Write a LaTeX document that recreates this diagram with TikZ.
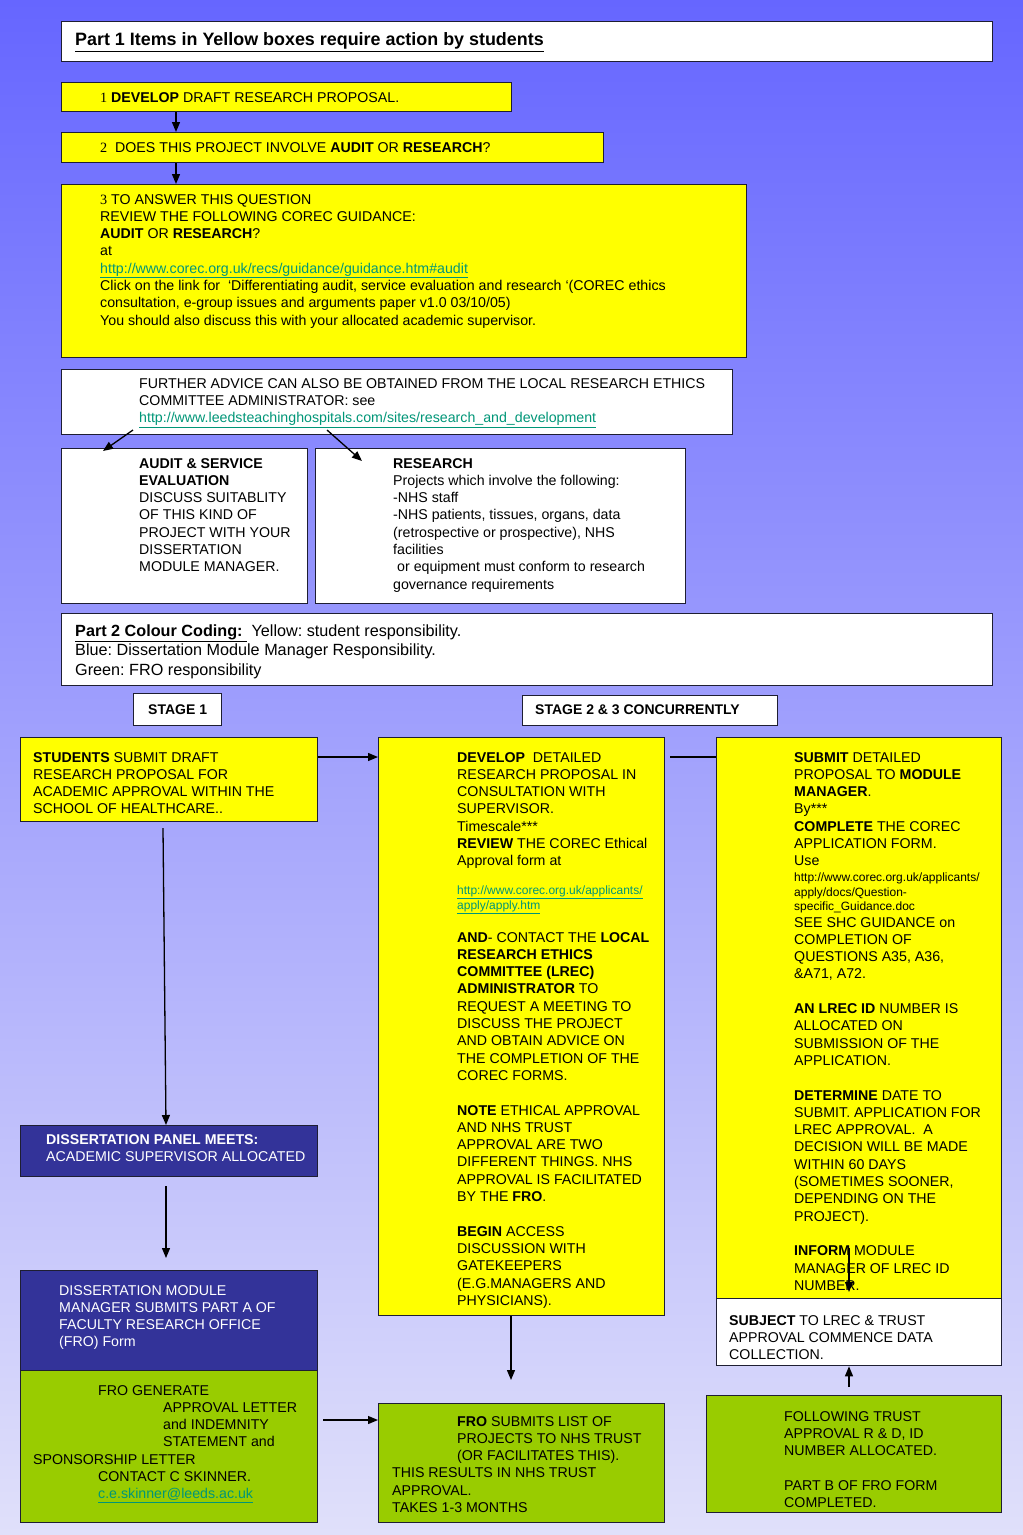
\documentclass[tikz,border=0pt]{standalone}
\usepackage{fontspec}
\setmainfont{Liberation Sans}
\newfontfamily\numfont{Liberation Serif}
\usetikzlibrary{arrows.meta}
\frenchspacing

\definecolor{bgtop}{RGB}{102,102,255}
\definecolor{bgbot}{RGB}{224,224,250}
\definecolor{edge}{RGB}{30,30,50}
\definecolor{yel}{RGB}{255,255,0}
\definecolor{blu}{RGB}{51,51,153}
\definecolor{grn}{RGB}{153,204,0}
\definecolor{linkcol}{RGB}{0,150,120}

\newcommand{\lnk}[1]{\textcolor{linkcol}{\underline{#1}}}

\begin{document}
\begin{tikzpicture}[x=1pt, y=-1pt,
    box/.style={draw=edge, line width=1.3pt, anchor=north west, inner sep=0pt},
    txt/.style={anchor=north west, inner sep=0pt, align=left, yshift=5.1pt,
      font=\fontsize{14.2}{17.3}\selectfont},
    small/.style={anchor=north west, inner sep=0pt, align=left, yshift=4.3pt,
      font=\fontsize{12}{14.5}\selectfont},
    arr/.style={-{Triangle[length=10pt,width=8pt]}, line width=1.3pt},
    plain/.style={line width=1.3pt}]

    \useasboundingbox (0,0) rectangle (1023,1535);
    \shade[top color=bgtop, bottom color=bgbot] (0,0) rectangle (1023,1535);

    % part 1
    \node[box, fill=white, minimum width=931pt, minimum height=40pt] (title) at (61,21) {};
    \node[txt, yshift=1.3pt, font=\fontsize{17.9}{21}\selectfont\bfseries] (ttitle) at (75,39)
      {\underline{Part 1 Items in Yellow boxes require action by students}};

    \node[box, fill=yel, minimum width=450pt, minimum height=29pt] (dev1) at (61,82) {};
    \node[txt] (tdev1) at (100,97) {{\numfont 1} \textbf{DEVELOP} DRAFT RESEARCH PROPOSAL.};

    \node[box, fill=yel, minimum width=542pt, minimum height=30pt] (q2) at (61,132) {};
    \node[txt] (tq2) at (100,147) {{\numfont 2}\ \ DOES THIS PROJECT INVOLVE \textbf{AUDIT} OR \textbf{RESEARCH}?};

    \node[box, fill=yel, minimum width=685pt, minimum height=173pt] (q3) at (61,184) {};
    \node[txt] (tq3) at (100,199) {{\numfont 3} TO ANSWER THIS QUESTION\\
      REVIEW THE FOLLOWING COREC GUIDANCE:\\
      \textbf{AUDIT} OR \textbf{RESEARCH}?\\
      at\\
      \lnk{http://www.corec.org.uk/recs/guidance/guidance.htm\#audit}\\
      Click on the link for \ ‘Differentiating audit, service evaluation and research ‘(COREC ethics\\
      consultation, e-group issues and arguments paper v1.0 03/10/05)\\
      You should also discuss this with your allocated academic supervisor.};

    \node[box, fill=white, minimum width=671pt, minimum height=65pt] (advice) at (61,369) {};
    \node[txt] (tadvice) at (139,383) {FURTHER ADVICE CAN ALSO BE OBTAINED FROM THE LOCAL RESEARCH ETHICS\\
      COMMITTEE ADMINISTRATOR: see\\
      \lnk{http://www.leedsteachinghospitals.com/sites/research\_and\_development}};

    \node[box, fill=white, minimum width=246pt, minimum height=155pt] (audit) at (61,448) {};
    \node[txt] (taudit) at (139,463) {\textbf{AUDIT \& SERVICE}\\
      \textbf{EVALUATION}\\
      DISCUSS SUITABLITY\\
      OF THIS KIND OF\\
      PROJECT WITH YOUR\\
      DISSERTATION\\
      MODULE MANAGER.};

    \node[box, fill=white, minimum width=370pt, minimum height=155pt] (research) at (315,448) {};
    \node[txt] (tresearch) at (393,463) {\textbf{RESEARCH}\\
      Projects which involve the following:\\
      -NHS staff\\
      -NHS patients, tissues, organs, data\\
      (retrospective or prospective), NHS\\
      facilities\\
      \hspace*{4pt}or equipment must conform to research\\
      governance requirements};

    % part 2
    \node[box, fill=white, minimum width=931pt, minimum height=72pt] (part2) at (61,613) {};
    \node[txt, yshift=0.6pt, font=\fontsize{16.2}{19.5}\selectfont] (tpart2) at (75,630)
      {\underline{\textbf{Part 2 Colour Coding:}\ }\ Yellow: student responsibility.\\
      Blue: Dissertation Module Manager Responsibility.\\
      Green: FRO responsibility};

    \node[box, fill=white, minimum width=88pt, minimum height=32pt] (stage1) at (133,693) {};
    \node[inner sep=0pt, font=\fontsize{14}{17}\selectfont\bfseries] (tstage1) at (stage1.center) {STAGE 1};
    \node[box, fill=white, minimum width=255pt, minimum height=30pt] (stage23) at (522,695) {};
    \node[txt, font=\fontsize{14}{17}\selectfont\bfseries] (tstage23) at (535,710) {STAGE 2 \& 3 CONCURRENTLY};

    % stage 1 column
    \node[box, fill=yel, minimum width=297pt, minimum height=84pt] (students) at (20,737) {};
    \node[txt] (tstudents) at (33,757) {\textbf{STUDENTS} SUBMIT DRAFT\\
      RESEARCH PROPOSAL FOR\\
      ACADEMIC APPROVAL WITHIN THE\\
      SCHOOL OF HEALTHCARE..};

    \node[box, fill=blu, minimum width=297pt, minimum height=51pt] (panel) at (20,1125) {};
    \node[txt, text=white] (tpanel) at (46,1139) {\textbf{DISSERTATION PANEL MEETS:}\\
      ACADEMIC SUPERVISOR ALLOCATED};

    \node[box, fill=blu, minimum width=297pt, minimum height=100pt] (dmm) at (20,1270) {};
    \node[txt, text=white] (tdmm) at (59,1290) {DISSERTATION MODULE\\
      MANAGER SUBMITS PART A OF\\
      FACULTY RESEARCH OFFICE\\
      (FRO) Form};

    \node[box, fill=grn, minimum width=297pt, minimum height=152pt] (frogen) at (20,1370) {};
    \node[txt] (tfrogen) at (33,1390) {\hspace*{65pt}FRO GENERATE\\
      \hspace*{130pt}APPROVAL LETTER\\
      \hspace*{130pt}and INDEMNITY\\
      \hspace*{130pt}STATEMENT and\\
      SPONSORSHIP LETTER\\
      \hspace*{65pt}CONTACT C SKINNER.\\
      \hspace*{65pt}\lnk{c.e.skinner@leeds.ac.uk}};

    % stage 2 & 3 columns
    \node[box, fill=yel, minimum width=286pt, minimum height=578pt] (develop) at (378,737) {};
    \node[txt] (tdevelop) at (457,757) {\textbf{DEVELOP} \ DETAILED\\
      RESEARCH PROPOSAL IN\\
      CONSULTATION WITH\\
      SUPERVISOR.\\
      Timescale***\\
      \textbf{REVIEW} THE COREC Ethical\\
      Approval form at};
    \node[small] (tdevurl) at (457,890) {\lnk{http://www.corec.org.uk/applicants/}\\
      \lnk{apply/apply.htm}};
    \node[txt] (tdevlrec) at (457,937) {\textbf{AND}- CONTACT THE \textbf{LOCAL}\\
      \textbf{RESEARCH ETHICS}\\
      \textbf{COMMITTEE (LREC)}\\
      \textbf{ADMINISTRATOR} TO\\
      REQUEST A MEETING TO\\
      DISCUSS THE PROJECT\\
      AND OBTAIN ADVICE ON\\
      THE COMPLETION OF THE\\
      COREC FORMS.\\[17.3pt]
      \textbf{NOTE} ETHICAL APPROVAL\\
      AND NHS TRUST\\
      APPROVAL ARE TWO\\
      DIFFERENT THINGS. NHS\\
      APPROVAL IS FACILITATED\\
      BY THE \textbf{FRO}.\\[17.3pt]
      \textbf{BEGIN} ACCESS\\
      DISCUSSION WITH\\
      GATEKEEPERS\\
      (E.G.MANAGERS AND\\
      PHYSICIANS).};

    \node[box, fill=grn, minimum width=286pt, minimum height=119pt] (frosub) at (378,1403) {};
    \node[txt] (tfrosub) at (392,1421) {\hspace*{65pt}\textbf{FRO} SUBMITS LIST OF\\
      \hspace*{65pt}PROJECTS TO NHS TRUST\\
      \hspace*{65pt}(OR FACILITATES THIS).\\
      THIS RESULTS IN NHS TRUST\\
      APPROVAL.\\
      TAKES 1-3 MONTHS};

    \node[box, fill=yel, minimum width=285pt, minimum height=561pt] (submit) at (716,737) {};
    \node[txt] (tsubmit) at (794,757) {\textbf{SUBMIT} DETAILED\\
      PROPOSAL TO \textbf{MODULE}\\
      \textbf{MANAGER}.\\
      By***\\
      \textbf{COMPLETE} THE COREC\\
      APPLICATION FORM.\\
      Use};
    \node[small] (tsuburl) at (794,877) {http://www.corec.org.uk/applicants/\\
      apply/docs/Question-\\
      specific\_Guidance.doc};
    \node[txt] (tsubshc) at (794,922) {SEE SHC GUIDANCE on\\
      COMPLETION OF\\
      QUESTIONS A35, A36,\\
      \&A71, A72.\\[17.3pt]
      \textbf{AN LREC ID} NUMBER IS\\
      ALLOCATED ON\\
      SUBMISSION OF THE\\
      APPLICATION.\\[17.3pt]
      \textbf{DETERMINE} DATE TO\\
      SUBMIT. APPLICATION FOR\\
      LREC APPROVAL. \ A\\
      DECISION WILL BE MADE\\
      WITHIN 60 DAYS\\
      (SOMETIMES SOONER,\\
      DEPENDING ON THE\\
      PROJECT).\\[17.3pt]
      \textbf{INFORM} MODULE\\
      MANAGER OF LREC ID\\
      NUMBER.};

    \node[box, fill=white, minimum width=285pt, minimum height=67pt] (subject) at (716,1298) {};
    \node[txt] (tsubject) at (729,1320) {\textbf{SUBJECT} TO LREC \& TRUST\\
      APPROVAL COMMENCE DATA\\
      COLLECTION.};

    \node[box, fill=grn, minimum width=295pt, minimum height=117pt] (following) at (706,1395) {};
    \node[txt] (tfollowing) at (784,1416) {FOLLOWING TRUST\\
      APPROVAL R \& D, ID\\
      NUMBER ALLOCATED.\\[17.3pt]
      PART B OF FRO FORM\\
      COMPLETED.};

    % connectors
    \coordinate (a1) at (176,0);
    \draw[arr] (dev1.south -| a1) -- (q2.north -| a1);
    \draw[arr] (q2.south -| a1) -- (q3.north -| a1);
    \coordinate (c1) at (133,430);
    \coordinate (c2) at (103,451);
    \draw[arr] (c1) -- (c2);
    \coordinate (c3) at (327,430);
    \coordinate (c4) at (362,461);
    \draw[arr] (c3) -- (c4);
    \coordinate (r1) at (0,757);
    \draw[arr] (students.east |- r1) -- (develop.west |- r1);
    \coordinate (c5) at (670,757);
    \draw[plain] (c5) -- (submit.west |- r1);
    \coordinate (c6) at (163,828);
    \coordinate (a2) at (166,0);
    \draw[arr] (c6) -- (panel.north -| a2);
    \coordinate (c7) at (166,1186);
    \coordinate (c8) at (166,1258);
    \draw[arr] (c7) -- (c8);
    \coordinate (c9) at (323,1420);
    \draw[arr] (c9) -- (frosub.west |- c9);
    \coordinate (c10) at (511,1380);
    \draw[arr] (develop.south -| c10) -- (c10);
    \coordinate (c11) at (849,1248);
    \coordinate (c12) at (849,1292);
    \draw[arr] (c11) -- (c12);
    \coordinate (c13) at (849,1387);
    \draw[arr] (c13) -- (subject.south -| c13);
\end{tikzpicture}
\end{document}
